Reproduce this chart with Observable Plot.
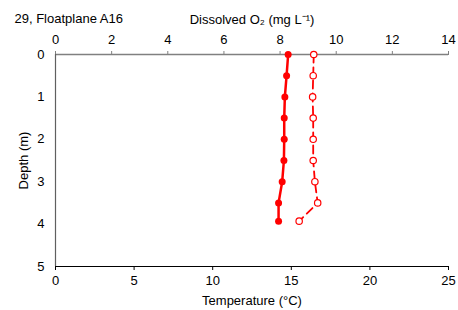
<!DOCTYPE html>
<html>
<head>
<meta charset="utf-8">
<script src="https://cdn.jsdelivr.net/npm/d3@7"></script>
<script src="https://cdn.jsdelivr.net/npm/@observablehq/plot@0.6"></script>
<style>
  html, body { margin: 0; padding: 0; background: #fff; }
</style>
</head>
<body>
<div id="chart"></div>
<script>
const title = "29, Floatplane A16";
const depths = [0, 0.5, 1, 1.5, 2, 2.5, 3, 3.5, 3.93];
const temperature = [14.80, 14.70, 14.59, 14.55, 14.55, 14.53, 14.42, 14.19, 14.19];
const dissolvedO2 = [9.20, 9.18, 9.16, 9.18, 9.18, 9.18, 9.24, 9.34, 8.68];
const tempTicks = [0, 5, 10, 15, 20, 25];
const doTicks = [0, 2, 4, 6, 8, 10, 12, 14];
const depthTicks = [0, 1, 2, 3, 4, 5];

const TMAX = 25, DOMAX = 14;
const doToX = v => v * TMAX / DOMAX;

const rows = depths.map((d, i) => ({depth: d, temp: temperature[i], o2: dissolvedO2[i]}));

const red = "#ff0000";
const FS = 13;

const chart = Plot.plot({
  width: 458,
  height: 310,
  marginLeft: 55,
  marginRight: 10,
  marginTop: 54,
  marginBottom: 44,
  style: {fontFamily: "'Liberation Sans', Arial, sans-serif", fontSize: FS + "px", color: "#000", background: "#fff"},
  x: {domain: [0, TMAX]},
  y: {domain: [0, 5], reverse: true},
  marks: [
    Plot.axisX({anchor: "bottom", ticks: tempTicks, tickFormat: d3.format("d"), tickSize: 4, tickPadding: 5, stroke: "#000",
      label: "Temperature (°C)", labelAnchor: "center", labelArrow: "none", labelOffset: 38, fontSize: FS}),
    Plot.axisX({anchor: "top", ticks: doTicks.map(doToX), tickFormat: v => String(Math.round(v * DOMAX / TMAX)),
      tickSize: 4, tickPadding: 6.5, stroke: "#808080",
      label: "Dissolved O₂ (mg L⁻¹)", labelAnchor: "center", labelArrow: "none", labelOffset: 40, fontSize: FS}),
    Plot.axisY({ticks: depthTicks, tickFormat: d3.format("d"), tickSize: 0, tickPadding: 11,
      label: "Depth (m)", labelAnchor: "center", labelArrow: "none", labelOffset: 37, fontSize: FS}),
    Plot.ruleY([0], {stroke: "#808080", strokeWidth: 1.5}),
    Plot.ruleY([5], {stroke: "#000", strokeWidth: 1}),
    Plot.ruleX([0], {stroke: "#606060", strokeWidth: 1.2}),
    Plot.line(rows, {x: d => doToX(d.o2), y: "depth", stroke: red, strokeWidth: 1.8, strokeDasharray: "8,5"}),
    Plot.dot(rows, {x: d => doToX(d.o2), y: "depth", r: 3.2, stroke: red, strokeWidth: 1.2, fill: "#fff"}),
    Plot.line(rows, {x: "temp", y: "depth", stroke: red, strokeWidth: 2.5}),
    Plot.dot(rows, {x: "temp", y: "depth", r: 3.5, fill: red, stroke: "none"}),
    Plot.text([title], {frameAnchor: "top-left", dx: -41, dy: -41, textAnchor: "start", fontSize: FS, fill: "#000"})
  ]
});
document.getElementById("chart").appendChild(chart);
</script>
</body>
</html>
